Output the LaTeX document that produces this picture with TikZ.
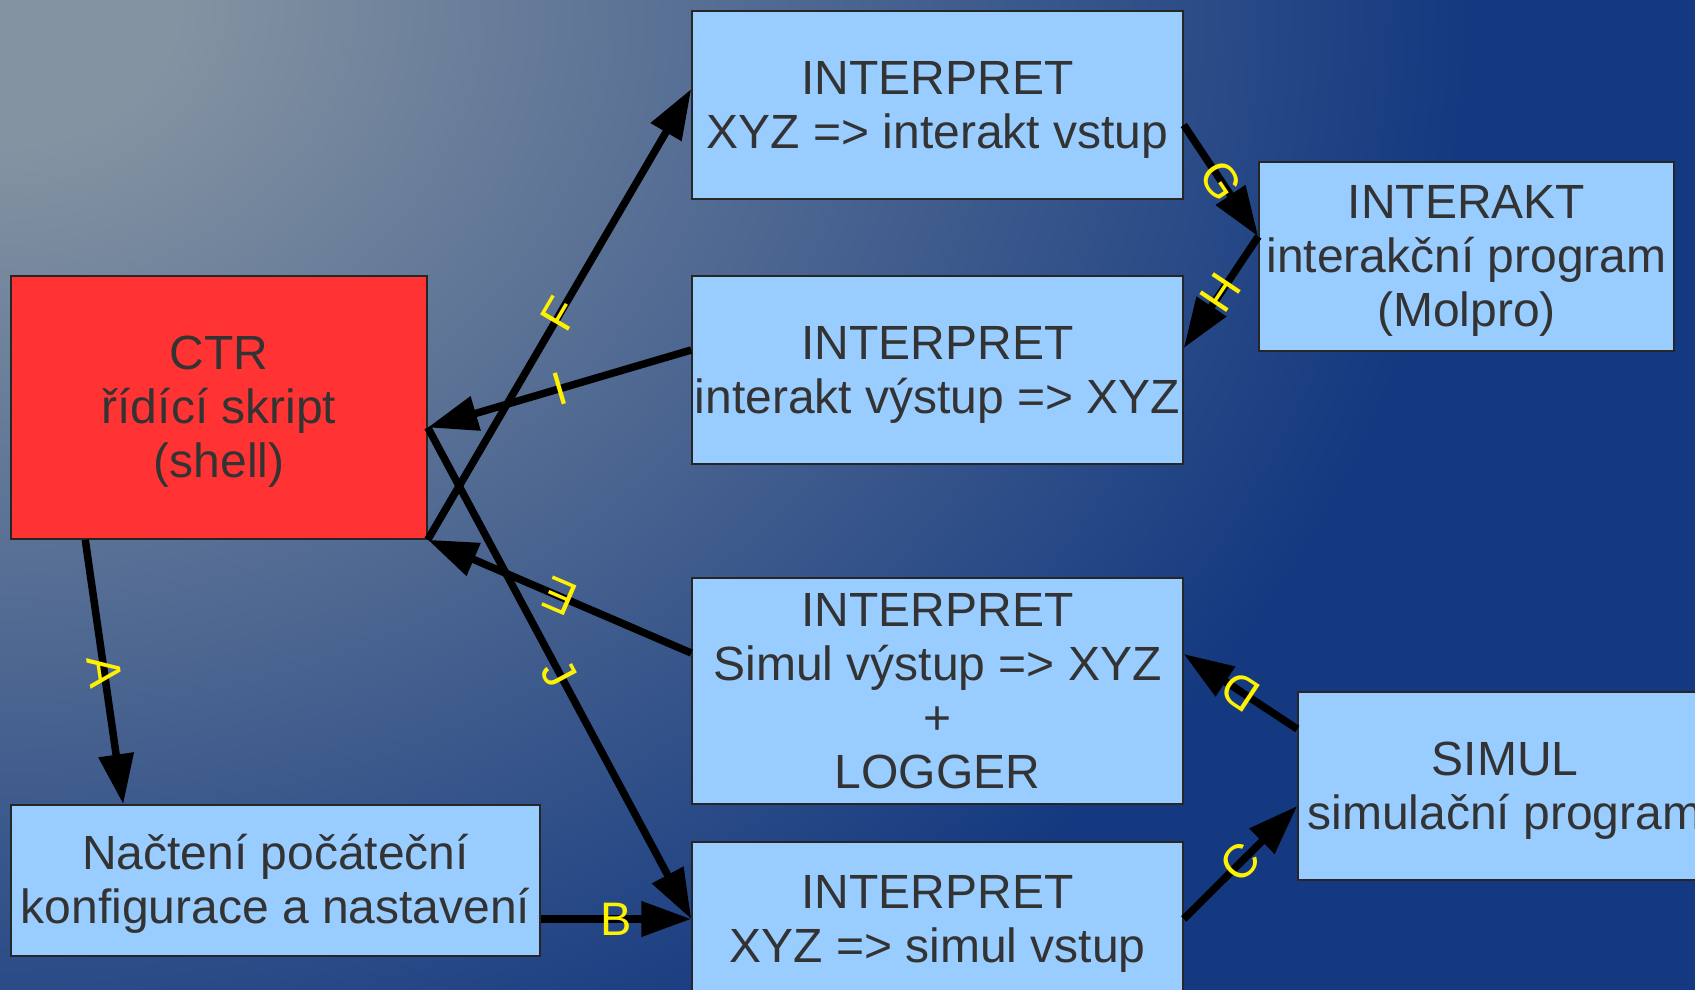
\documentclass[tikz,border=0pt]{standalone}
\usepackage{fontspec}
\setmainfont{Liberation Sans}
\usetikzlibrary{arrows.meta}
\definecolor{bgin}{RGB}{132,147,162}
\definecolor{bgout}{RGB}{20,57,128}
\definecolor{boxblue}{RGB}{153,204,255}
\definecolor{ctrred}{RGB}{255,51,51}
\definecolor{txtgray}{RGB}{51,51,51}
\pgfdeclareradialshading{bgshade}{\pgfpoint{0bp}{0bp}}{color(0bp)=(bgin); color(3bp)=(bgin); color(25bp)=(bgout); color(50bp)=(bgout)}
\newcommand{\ls}{\rule[-0.212em]{0pt}{1.1em}}
\begin{document}
\begin{tikzpicture}[x=1pt,y=-1pt,
  box/.style={draw=black!85, line width=1.5pt, fill=boxblue, text=txtgray, align=center, inner sep=0pt, font=\fontsize{48}{54}\selectfont},
  conn/.style={line width=7.5pt, -{Triangle[length=50pt,width=34pt]}},
  lab/.style={text=yellow, font=\fontsize{47}{54}\selectfont, inner sep=0pt, sloped, allow upside down, midway}]
\useasboundingbox (0,0) rectangle (1695,990);
\begin{scope}
\clip (0,0) rectangle (1695,990);
\fill[bgout] (0,0) rectangle (1695,990);
\shade[shading=bgshade] (0,0) ellipse [x radius=1470pt, y radius=1200pt];
\node[box, fill=ctrred, minimum width=416pt, minimum height=263pt] (ctr) at (219,407.5) {\ls CTR\\\ls řídící skript\\\ls (shell)};
\node[box, minimum width=529pt, minimum height=151pt] (nac) at (275.5,880.5) {\ls Načtení počáteční\\\ls konfigurace a nastavení};
\node[box, minimum width=491pt, minimum height=188pt] (i1) at (937.5,105) {\ls INTERPRET\\\ls XYZ => interakt vstup};
\node[box, minimum width=491pt, minimum height=188pt] (i2) at (937.5,370) {\ls INTERPRET\\\ls interakt výstup => XYZ};
\node[box, minimum width=491pt, minimum height=226pt] (i3) at (937.5,691) {\ls INTERPRET\\\ls Simul výstup => XYZ\\\ls +\\\ls LOGGER};
\node[box, minimum width=491pt, minimum height=154pt] (i4) at (937.5,919) {\ls INTERPRET\\\ls XYZ => simul vstup};
\node[box, minimum width=415pt, minimum height=189pt] (interakt) at (1466.5,256.5) {\ls INTERAKT\\\ls interakční program\\\ls (Molpro)};
\node[box, minimum width=414pt, minimum height=188pt] (simul) at (1505,786) {\ls SIMUL\\\ls simulační program};
\draw[conn] ([xshift=75pt]ctr.south west) -- node[lab]{A} ([xshift=113pt]nac.north west);
\draw[conn] (nac.east |- i4.west) -- node[lab]{B} (i4.west);
\draw[conn] (i4.east) -- node[lab]{C} ([yshift=-20pt]simul.west);
\draw[conn] ([yshift=57pt]simul.west) -- node[lab]{D} ([yshift=37pt]i3.east);
\draw[conn] ([yshift=38pt]i3.west) -- node[lab]{E} (ctr.south east);
\draw[conn] (ctr.south east) -- node[lab]{F} ([yshift=16pt]i1.west);
\draw[conn] ([yshift=-20pt]i1.east) -- node[lab]{G} ([yshift=20pt]interakt.west);
\draw[conn] ([yshift=20pt]interakt.west) -- node[lab]{H} ([yshift=22pt]i2.east);
\draw[conn] ([yshift=20pt]i2.west) -- node[lab]{I} ([yshift=-20pt]ctr.east);
\draw[conn] ([yshift=-20pt]ctr.east) -- node[lab]{J} (i4.west);
\end{scope}
\end{tikzpicture}
\end{document}
